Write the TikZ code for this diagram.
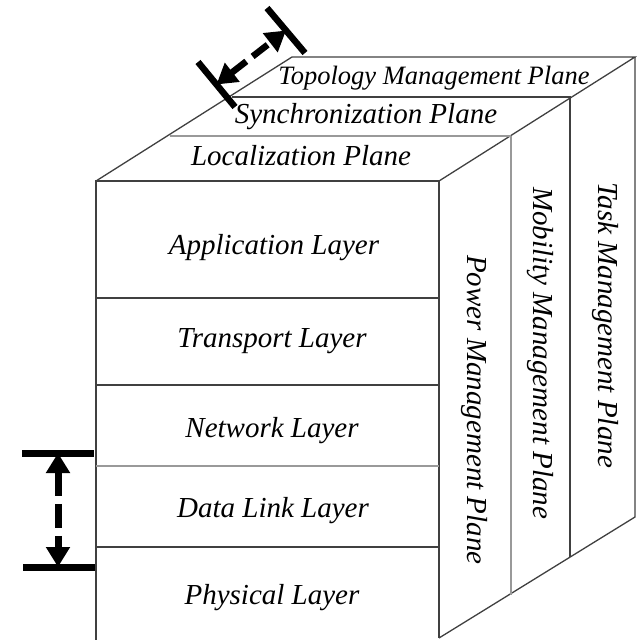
\documentclass[tikz,border=0pt]{standalone}
\usepackage{fontspec}
\setmainfont{Liberation Serif}
\usetikzlibrary{arrows.meta}
\begin{document}
\begin{tikzpicture}[x=1pt,y=-1pt,
  edge/.style={draw=black!75, line width=1.3pt},
  lite/.style={draw=black!40, line width=1.3pt},
  lbl/.style={inner sep=0pt, anchor=base, font=\fontsize{29}{34}\selectfont\itshape},
  vlbl/.style={inner sep=0pt, anchor=base west, rotate=-90, font=\fontsize{29}{34}\selectfont\itshape},
  bar/.style={line width=6.5pt},
  dimarrow/.style={line width=6.5pt, dash pattern=on 24pt off 8pt,
    {Triangle[width=23pt,length=20pt]}-{Triangle[width=23pt,length=20pt]}}
]
\useasboundingbox (0,0) rectangle (637,640);
% corner coordinates
\coordinate (fTL) at (96,181);
\coordinate (fTR) at (439,181);
\coordinate (fBL) at (96,641);
\coordinate (fBR) at (439,638);
\coordinate (bTL) at (292,57);
\coordinate (bTR) at (635,57);
\coordinate (bBR) at (635,517);
\coordinate (l1L) at (170,136);
\coordinate (l1R) at (511,136);
\coordinate (l1B) at (511,595);
\coordinate (l2L) at (232,97);
\coordinate (l2R) at (570,97);
\coordinate (l2B) at (570,557);
% front face
\draw[edge] (fBL) -- (fTL) -- (fTR) -- (fBR);
\draw[edge] (fTL) -- (bTL) -- (bTR) -- (fTR);
\draw[edge] (fBR) -- (bBR) -- (bTR);
\draw[lite] (l1L) -- (l1R);
\draw[lite] (l1R) -- (l1B);
\draw[edge] (l2L) -- (l2R) -- (l2B);
% layer separators
\coordinate (s1L) at (96,298);  \coordinate (s1R) at (439,298);
\coordinate (s2L) at (96,385);  \coordinate (s2R) at (439,385);
\coordinate (s3L) at (96,466);  \coordinate (s3R) at (439,466);
\coordinate (s4L) at (96,547);  \coordinate (s4R) at (439,547);
\draw[edge] (s1L) -- (s1R);
\draw[edge] (s2L) -- (s2R);
\draw[lite] (s3L) -- (s3R);
\draw[edge] (s4L) -- (s4R);
% layer labels
\node[lbl] (app) at (274,254) {Application Layer};
\node[lbl] (tra) at (272,347) {Transport Layer};
\node[lbl] (net) at (272,437) {Network Layer};
\node[lbl] (dll) at (273,517) {Data Link Layer};
\node[lbl] (phy) at (272,604) {Physical Layer};
% plane labels
\node[lbl] (loc) at (301,165) {Localization Plane};
\node[lbl] (syn) at (366,123) {Synchronization Plane};
\node[lbl, font=\fontsize{26.5}{32}\selectfont\itshape] (top) at (434,84) {Topology Management Plane};
\node[vlbl] (pow) at (467,255) {Power Management Plane};
\node[vlbl] (mob) at (533,187) {Mobility Management Plane};
\node[vlbl] (tsk) at (598,182) {Task Management Plane};
% dimension markers: top
\coordinate (b1a) at (198,62);  \coordinate (b1b) at (235,107);
\coordinate (b2a) at (267,8);   \coordinate (b2b) at (305,53);
\coordinate (m1) at (216.5,84.5); \coordinate (m2) at (286,30.5);
\draw[bar] (b1a) -- (b1b);
\draw[bar] (b2a) -- (b2b);
\draw[dimarrow, dash pattern=on 19pt off 8pt] (m1) -- (m2);
% dimension markers: left
\coordinate (c1a) at (22,453);  \coordinate (c1b) at (94,453);
\coordinate (c2a) at (23,567);  \coordinate (c2b) at (95,567);
\coordinate (n1) at (58,453);   \coordinate (n2) at (58,567);
\draw[line width=7pt] (c1a) -- (c1b);
\draw[line width=7pt] (c2a) -- (c2b);
\draw[dimarrow, line width=7pt] (n1) -- (n2);
\end{tikzpicture}
\end{document}
